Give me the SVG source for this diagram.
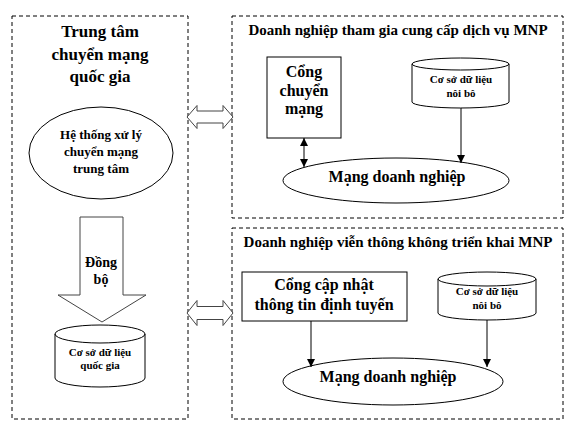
<svg xmlns="http://www.w3.org/2000/svg" width="580" height="433" viewBox="0 0 580 433">
<defs>
<style>
text{font-family:"Liberation Serif","Times New Roman",serif;font-weight:bold;fill:#000;text-anchor:middle}
.box{fill:none;stroke:#000;stroke-width:1;stroke-dasharray:4,3}
.shape{fill:#fff;stroke:#000;stroke-width:1}
.blk{fill:#fff;stroke:#444;stroke-width:1}
.ln{fill:none;stroke:#000;stroke-width:1}
.t17{font-size:17px}
.t16{font-size:16px}
.t15{font-size:15px}
.t13{font-size:13px}
.t14{font-size:14px}
.t11{font-size:11px}
</style>
<marker id="ah" viewBox="0 0 10 10" refX="10" refY="5" markerWidth="8" markerHeight="8" markerUnits="userSpaceOnUse" orient="auto-start-reverse">
<path d="M0,0 L10,5 L0,10 z" fill="#000"/>
</marker>
</defs>
<rect width="580" height="433" fill="#fff"/>

<g id="center-box">
<rect class="box" x="12" y="16" width="176" height="403"/>
<text class="t17" x="100" y="37">Trung tâm</text>
<text class="t17" x="100" y="60">chuyển mạng</text>
<text class="t17" x="100" y="82">quốc gia</text>
</g>

<g id="central-system">
<ellipse class="shape" cx="101" cy="153" rx="72" ry="46"/>
<text class="t13" x="101" y="139">Hệ thống xử lý</text>
<text class="t13" x="101" y="156">chuyển mạng</text>
<text class="t13" x="101" y="173">trung tâm</text>
</g>

<g id="sync-arrow">
<polygon class="blk" points="80,217 123,217 123,295 146,295 102,322 58,295 80,295"/>
<text class="t14" x="101" y="267">Đồng</text>
<text class="t14" x="101" y="284">bộ</text>
</g>

<g id="national-db">
<path class="shape" d="M55,334 A45,9 0 0 1 145,334 L145,378 A45,9 0 0 1 55,378 Z"/>
<path class="ln" d="M55,334 A45,9 0 0 0 145,334"/>
<text class="t11" x="100" y="356">Cơ sở dữ liệu</text>
<text class="t11" x="100" y="369">quốc gia</text>
</g>

<g id="mnp-provider-box">
<rect class="box" x="232" y="16" width="331" height="202"/>
<text class="t15" x="398" y="35">Doanh nghiệp tham gia cung cấp dịch vụ MNP</text>
</g>

<g id="switch-gateway">
<rect class="shape" x="267" y="57" width="74" height="81"/>
<text class="t16" x="304" y="77">Cổng</text>
<text class="t16" x="304" y="96">chuyển</text>
<text class="t16" x="304" y="114">mạng</text>
</g>

<g id="internal-db-1">
<path class="shape" d="M412,64 A48.5,6 0 0 1 509,64 L509,102 A48.5,6 0 0 1 412,102 Z"/>
<path class="ln" d="M412,64 A48.5,6 0 0 0 509,64"/>
<text class="t11" x="461" y="83">Cơ sở dữ liệu</text>
<text class="t11" x="461" y="97">nôi bô</text>
</g>

<g id="enterprise-net-1">
<ellipse class="shape" cx="396" cy="180.5" rx="113" ry="22.5"/>
<text class="t16" x="397" y="182">Mạng doanh nghiệp</text>
</g>

<g id="non-mnp-box">
<rect class="box" x="232" y="228" width="331" height="191"/>
<text class="t15" x="398" y="247">Doanh nghiệp viễn thông không triển khai MNP</text>
</g>

<g id="routing-gateway">
<rect class="shape" x="242" y="272" width="165" height="49"/>
<text class="t16" x="324" y="290">Cổng cập nhật</text>
<text class="t16" x="324" y="310">thông tin định tuyến</text>
</g>

<g id="internal-db-2">
<path class="shape" d="M438,279 A49,7 0 0 1 536,279 L536,313 A49,7 0 0 1 438,313 Z"/>
<path class="ln" d="M438,279 A49,7 0 0 0 536,279"/>
<text class="t11" x="487" y="295">Cơ sở dữ liệu</text>
<text class="t11" x="487" y="309">nôi bô</text>
</g>

<g id="enterprise-net-2">
<ellipse class="shape" cx="393" cy="381.5" rx="110" ry="23.5"/>
<text class="t16" x="388" y="382">Mạng doanh nghiệp</text>
</g>

<g id="connectors">
<polygon class="blk" points="187,117 197,105.5 197,111 223,111 223,105.5 233,117 223,128.5 223,123 197,123 197,128.5"/>
<polygon class="blk" points="187,313 197,300.5 197,306.5 223,306.5 223,300.5 233,313 223,325.5 223,319.5 197,319.5 197,325.5"/>
<line class="ln" x1="304" y1="138" x2="304" y2="167" marker-start="url(#ah)" marker-end="url(#ah)"/>
<line class="ln" x1="461" y1="108" x2="461" y2="163" marker-end="url(#ah)"/>
<line class="ln" x1="311" y1="321" x2="311" y2="367" marker-end="url(#ah)"/>
<line class="ln" x1="487" y1="320" x2="487" y2="367" marker-end="url(#ah)"/>
</g>
</svg>
